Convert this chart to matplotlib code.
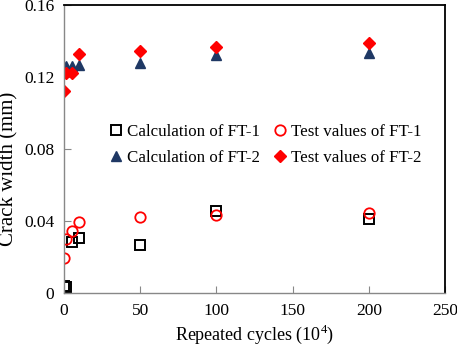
import matplotlib
matplotlib.use("Agg")
import matplotlib.pyplot as plt

plt.rcParams['font.family'] = ['Liberation Serif', 'DejaVu Serif']
plt.rcParams['mathtext.fontset'] = 'custom'
plt.rcParams['mathtext.rm'] = 'Liberation Serif'

# Data
calc_ft1_x = [0, 1, 5, 10, 50, 100, 200]
calc_ft1_y = [0.004, 0.0035, 0.0285, 0.0307, 0.0267, 0.0457, 0.041]
test_ft1_x = [0, 1, 5, 10, 50, 100, 200]
test_ft1_y = [0.0196, 0.0298, 0.0346, 0.0396, 0.0424, 0.0433, 0.0446]
calc_ft2_x = [0, 1, 5, 10, 50, 100, 200]
calc_ft2_y = [0.1257, 0.1262, 0.1263, 0.1267, 0.1276, 0.1322, 0.1332]
test_ft2_x = [0, 1, 5, 10, 50, 100, 200]
test_ft2_y = [0.1124, 0.1224, 0.1224, 0.1328, 0.1344, 0.1365, 0.1387]

xticks = [0, 50, 100, 150, 200, 250]
yticks = [0, 0.04, 0.08, 0.12, 0.16]
ytick_labels = ['0', '0.04', '0.08', '0.12', '0.16']

fig = plt.figure(figsize=(4.57, 3.48), dpi=100)
ax = fig.add_axes([0.140, 0.158, 0.8337, 0.8276])

h1, = ax.plot(calc_ft1_x, calc_ft1_y, 's', mfc='none', mec='black', mew=1.4, ms=7, ls='none',
              label='Calculation of FT-1')
h2, = ax.plot(calc_ft2_x, calc_ft2_y, '^', color='#1f3864', mec='#1f3864', ms=7, ls='none',
              label='Calculation of FT-2')
h3, = ax.plot(test_ft1_x, test_ft1_y, 'o', mfc='none', mec='red', mew=1.3, ms=7.5, ls='none',
              label='Test values of FT-1')
h4, = ax.plot(test_ft2_x, test_ft2_y, 'D', color='red', mec='red', ms=6, ls='none',
              label='Test values of FT-2')

ax.set_xlim(0, 250)
ax.set_ylim(0, 0.16)
ax.set_xticks(xticks)
ax.set_yticks(yticks)
ax.set_yticklabels(ytick_labels)
ax.tick_params(direction='in', labelsize=12.5, length=5, color='#888888')
ax.tick_params(axis='x', pad=7)
ax.tick_params(axis='y', pad=7)

for s in ['left', 'bottom']:
    ax.spines[s].set_color('#888888')
    ax.spines[s].set_linewidth(1.0)
for s in ['top', 'right']:
    ax.spines[s].set_color('black')
    ax.spines[s].set_linewidth(1.3)

ax.set_xlabel('Repeated cycles (10$^{4}$)', fontsize=13, va='center')
ax.xaxis.set_label_coords(0.5, -0.143)
ax.set_ylabel('Crack width (mm)', fontsize=15, va='center')
ax.yaxis.set_label_coords(-0.144, 0.43)

ax.legend(handles=[h1, h2, h3, h4], ncol=2, loc='center', bbox_to_anchor=(0.53, 0.514),
          frameon=False, fontsize=12.2, handlelength=0.7, handletextpad=0.3,
          columnspacing=0.8, labelspacing=0.55)

fig.savefig('out.png', dpi=100)
